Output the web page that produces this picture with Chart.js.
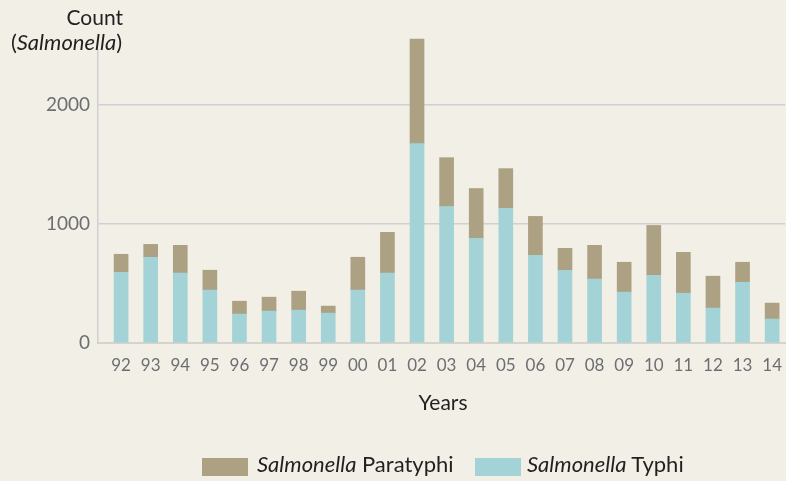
<!DOCTYPE html>
<html>
<head>
<meta charset="utf-8">
<script src="https://cdn.jsdelivr.net/npm/chart.js@4.4.1/dist/chart.umd.min.js"></script>
<style>
    html, body { margin: 0; padding: 0; background: #f2efe7; overflow: hidden; }
    #wrap { position: relative; width: 786px; height: 481px; font-family: Lato, sans-serif; color: #231f20; }
    #wrap canvas { position: absolute; left: 0; top: 0; }
    .t { position: absolute; white-space: nowrap; line-height: 1.2; }
    .sw { position: absolute; width: 46px; height: 18px; }
</style>
</head>
<body>
<div id="wrap">
    <canvas id="typhiChart" width="786" height="481"></canvas>
    <div class="t" style="right: 663px; top: 4px; font-size: 21px;">Count</div>
    <div class="t" style="right: 664px; top: 29px; font-size: 22px;">(<i>Salmonella</i>)</div>
    <div class="t" style="left: 343px; width: 200px; text-align: center; top: 389px; font-size: 21px;">Years</div>
    <div class="sw" style="left: 202px; top: 458px; background: #aca182;"></div>
    <div class="t" style="left: 257px; top: 451px; font-size: 22px;"><i>Salmonella</i> Paratyphi</div>
    <div class="sw" style="left: 475px; top: 458px; background: #a3d3d7;"></div>
    <div class="t" style="left: 527px; top: 451px; font-size: 22px;"><i>Salmonella</i> Typhi</div>
</div>
<script>
    const years = ["92", "93", "94", "95", "96", "97", "98", "99", "00", "01", "02", "03", "04", "05", "06", "07", "08", "09", "10", "11", "12", "13", "14"];
    const typhi = [594, 720, 586, 444, 243, 268, 276, 251, 444, 586, 1674, 1146, 879, 1130, 736, 611, 536, 427, 569, 418, 293, 510, 201];
    const paratyphi = [151, 108, 234, 167, 108, 117, 159, 59, 276, 343, 878, 410, 418, 334, 327, 184, 284, 251, 418, 343, 268, 168, 134];
    const countTicks = [0, 1000, 2000];

    const tickColor = "#6d6e71";
    const lineColor = "#cfcfd4";

    // linear x so the first bar can sit a little away from the y axis line
    const toPoints = (arr) => arr.map((v, i) => ({ x: i, y: v }));

    new Chart(document.getElementById("typhiChart"), {
        type: "bar",
        data: {
            datasets: [
                {
                    label: "Salmonella Typhi",
                    data: toPoints(typhi),
                    backgroundColor: "#a3d3d7",
                    barThickness: 14,
                    clip: false,
                },
                {
                    label: "Salmonella Paratyphi",
                    data: toPoints(paratyphi),
                    backgroundColor: "#aca182",
                    barThickness: 14,
                    clip: false,
                },
            ],
        },
        options: {
            responsive: false,
            animation: false,
            layout: { padding: { top: 50, right: 0, bottom: 0, left: 0 } },
            plugins: {
                legend: { display: false },
                tooltip: { enabled: false },
            },
            scales: {
                x: {
                    type: "linear",
                    stacked: true,
                    offset: false,
                    min: -0.78,
                    max: 22.44,
                    afterBuildTicks: (s) => {
                        s.ticks = years.map((_, i) => ({ value: i }));
                    },
                    afterFit: (s) => {
                        s.height = 138;
                    },
                    grid: { display: false },
                    border: { display: true, color: "#d6d3cd", width: 2 },
                    ticks: {
                        padding: 4,
                        color: tickColor,
                        font: { family: "Lato", size: 17 },
                        maxRotation: 0,
                        autoSkip: false,
                        callback: (v) => years[v] ?? "",
                    },
                },
                y: {
                    stacked: true,
                    min: 0,
                    max: 2460,
                    afterBuildTicks: (s) => {
                        s.ticks = countTicks.map((v) => ({ value: v }));
                    },
                    afterFit: (s) => {
                        s.width = 98;
                    },
                    grid: { color: lineColor, lineWidth: 1.5, drawTicks: false },
                    border: { display: true, color: lineColor, width: 1.5 },
                    ticks: {
                        padding: 8,
                        color: tickColor,
                        font: { family: "Lato", size: 19 },
                        callback: (v) => String(v),
                    },
                },
            },
        },
    });
</script>
</body>
</html>
